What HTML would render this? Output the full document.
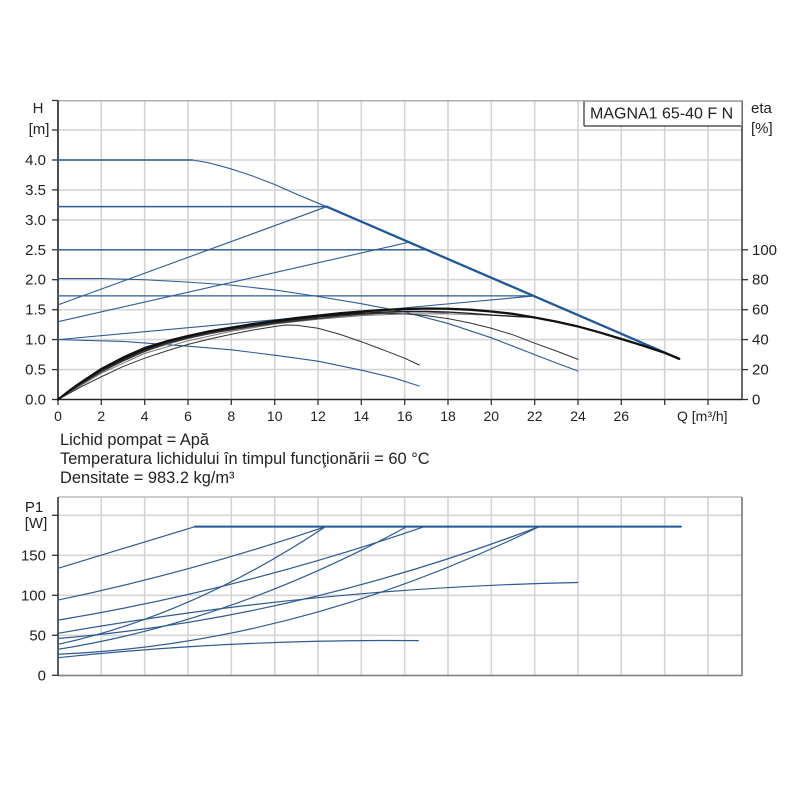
<!DOCTYPE html>
<html><head><meta charset="utf-8"><style>
html,body{margin:0;padding:0;background:#fff;}
svg{display:block;}
text{font-family:"Liberation Sans",Arial,sans-serif;fill:#222;}
.nb{vector-effect:non-scaling-stroke;fill:none;stroke-linejoin:round;stroke-linecap:round;}
</style></head><body>
<svg width="800" height="800" viewBox="0 0 800 800" xmlns="http://www.w3.org/2000/svg">
<rect width="800" height="800" fill="#fff"/>

<!-- ===== TOP CHART ===== -->
<g stroke="#d4d4d4" stroke-width="1.6">
  <line x1="101.3" y1="100.5" x2="101.3" y2="399.5"/>
  <line x1="144.7" y1="100.5" x2="144.7" y2="399.5"/>
  <line x1="188" y1="100.5" x2="188" y2="399.5"/>
  <line x1="231.3" y1="100.5" x2="231.3" y2="399.5"/>
  <line x1="274.7" y1="100.5" x2="274.7" y2="399.5"/>
  <line x1="318" y1="100.5" x2="318" y2="399.5"/>
  <line x1="361.3" y1="100.5" x2="361.3" y2="399.5"/>
  <line x1="404.7" y1="100.5" x2="404.7" y2="399.5"/>
  <line x1="448" y1="100.5" x2="448" y2="399.5"/>
  <line x1="491.3" y1="100.5" x2="491.3" y2="399.5"/>
  <line x1="534.7" y1="100.5" x2="534.7" y2="399.5"/>
  <line x1="578" y1="100.5" x2="578" y2="399.5"/>
  <line x1="621.3" y1="100.5" x2="621.3" y2="399.5"/>
  <line x1="664.7" y1="100.5" x2="664.7" y2="399.5"/>
  <line x1="708" y1="100.5" x2="708" y2="399.5"/>
  <line x1="58" y1="369.6" x2="742" y2="369.6"/>
  <line x1="58" y1="339.6" x2="742" y2="339.6"/>
  <line x1="58" y1="309.7" x2="742" y2="309.7"/>
  <line x1="58" y1="279.7" x2="742" y2="279.7"/>
  <line x1="58" y1="249.8" x2="742" y2="249.8"/>
  <line x1="58" y1="219.9" x2="742" y2="219.9"/>
  <line x1="58" y1="189.9" x2="742" y2="189.9"/>
  <line x1="58" y1="160" x2="742" y2="160"/>
  <line x1="58" y1="130" x2="742" y2="130"/>
</g>
<line x1="58" y1="100.8" x2="742" y2="100.8" stroke="#aaa" stroke-width="1.4"/>
<line x1="742" y1="100.5" x2="742" y2="400" stroke="#444" stroke-width="1.6"/>
<line x1="58" y1="100.5" x2="58" y2="400" stroke="#222" stroke-width="1.6"/>
<line x1="57" y1="399.5" x2="742" y2="399.5" stroke="#222" stroke-width="1.6"/>
<g stroke="#333" stroke-width="1.3">
  <line x1="52" y1="399.5" x2="58" y2="399.5"/><line x1="52" y1="369.6" x2="58" y2="369.6"/>
  <line x1="52" y1="339.6" x2="58" y2="339.6"/><line x1="52" y1="309.7" x2="58" y2="309.7"/>
  <line x1="52" y1="279.7" x2="58" y2="279.7"/><line x1="52" y1="249.8" x2="58" y2="249.8"/>
  <line x1="52" y1="219.9" x2="58" y2="219.9"/><line x1="52" y1="189.9" x2="58" y2="189.9"/>
  <line x1="52" y1="160" x2="58" y2="160"/><line x1="52" y1="130" x2="58" y2="130"/>
  <line x1="52" y1="100.5" x2="58" y2="100.5"/>
  <line x1="742" y1="399.5" x2="748" y2="399.5"/><line x1="742" y1="369.6" x2="748" y2="369.6"/>
  <line x1="742" y1="339.6" x2="748" y2="339.6"/><line x1="742" y1="309.7" x2="748" y2="309.7"/>
  <line x1="742" y1="279.7" x2="748" y2="279.7"/><line x1="742" y1="249.8" x2="748" y2="249.8"/>
  <line x1="58" y1="399.5" x2="58" y2="405"/><line x1="101.3" y1="399.5" x2="101.3" y2="405"/>
  <line x1="144.7" y1="399.5" x2="144.7" y2="405"/><line x1="188" y1="399.5" x2="188" y2="405"/>
  <line x1="231.3" y1="399.5" x2="231.3" y2="405"/><line x1="274.7" y1="399.5" x2="274.7" y2="405"/>
  <line x1="318" y1="399.5" x2="318" y2="405"/><line x1="361.3" y1="399.5" x2="361.3" y2="405"/>
  <line x1="404.7" y1="399.5" x2="404.7" y2="405"/><line x1="448" y1="399.5" x2="448" y2="405"/>
  <line x1="491.3" y1="399.5" x2="491.3" y2="405"/><line x1="534.7" y1="399.5" x2="534.7" y2="405"/>
  <line x1="578" y1="399.5" x2="578" y2="405"/><line x1="621.3" y1="399.5" x2="621.3" y2="405"/>
  <line x1="664.7" y1="399.5" x2="664.7" y2="405"/><line x1="708" y1="399.5" x2="708" y2="405"/>
</g>

<g transform="matrix(21.667 0 0 -59.88 58 399.5)">
  <g stroke="#2d5b95" stroke-width="1.1">
    <path class="nb" stroke-width="1.5" d="M0,4 L6.2,4"/>
    <path class="nb" d="M6.2,4 L7,3.95 8,3.85 9,3.73 10,3.59 11,3.43 12.4,3.22"/>
    <path class="nb" stroke-width="1.5" d="M0,3.22 L12.4,3.22"/>
    <path class="nb" stroke-width="1.3" d="M0,2.5 L16.95,2.5"/>
    <path class="nb" stroke-width="1.3" d="M0,1.73 L22,1.73"/>
    <path class="nb" d="M0,1.58 L12.4,3.22"/>
    <path class="nb" d="M0,1.30 L16.2,2.627"/>
    <path class="nb" d="M0,1.0 L22,1.73"/>
    <path class="nb" d="M0,2.02 L2,2.02 4,2.0 6,1.96 8,1.91 10,1.83 12,1.72 14,1.6 16,1.46 18,1.27 20,1.03 22,0.75 23,0.61 24,0.476"/>
    <path class="nb" d="M0,1.0 L3,0.97 6,0.89 8,0.83 10,0.74 12,0.64 14,0.49 15.5,0.36 16.67,0.225"/>
    <path class="nb" stroke="#1f5799" stroke-width="2.3" d="M12.4,3.22 L28.67,0.68"/>
  </g>
  <path class="nb" stroke="#777" stroke-width="1" d="M0,0 L2,0.44 4,0.77 6,0.98 8,1.14 10,1.26 12,1.34 14,1.40 16,1.43 18,1.43 20,1.41 22,1.37"/>
  <path class="nb" stroke="#888" stroke-width="1" d="M0,0 L2,0.47 4,0.81 6,1.02 8,1.17 10,1.28 12,1.37 14,1.43 16,1.46 17,1.46 18,1.44"/>
  <path class="nb" stroke="#333" stroke-width="1" d="M0,0 L1,0.2 2,0.38 3,0.55 4,0.69 5,0.81 6,0.92 7,1.01 8,1.09 9,1.16 10,1.22 10.5,1.245 11,1.24 12,1.19 13,1.09 14,0.965 15,0.83 16,0.69 16.67,0.576"/>
  <path class="nb" stroke="#333" stroke-width="1" d="M0,0 L1,0.24 2,0.46 3,0.64 4,0.80 5,0.93 6,1.02 7,1.10 8,1.16 9,1.22 10,1.27 11,1.31 12,1.35 13,1.39 14,1.42 15,1.44 16,1.43 17,1.40 18,1.35 19,1.28 20,1.19 21,1.08 22,0.94 23,0.81 24,0.67"/>
  <path class="nb" stroke="#222" stroke-width="1.4" d="M0,0 L1,0.26 2,0.49 3,0.67 4,0.83 5,0.95 6,1.04 7,1.12 8,1.18 9,1.24 10,1.29 11,1.34 12,1.38 13,1.41 14,1.44 15,1.46 16,1.47 17,1.47 18,1.46 19,1.44 20,1.41 21,1.39 22,1.37"/>
  <path class="nb" stroke="#111" stroke-width="1.4" d="M0,0 L1,0.265 2,0.50 3,0.685 4,0.845 5,0.96 6,1.05 7,1.13 8,1.19 9,1.25 10,1.30 11,1.35 12,1.39 13,1.425 14,1.455"/>
  <path class="nb" stroke="#333" stroke-width="1.2" d="M0,0 L1,0.25 2,0.475 3,0.655 4,0.815 5,0.94 6,1.03 7,1.11 8,1.17 9,1.23 10,1.28 11,1.325 12,1.365"/>
  <path class="nb" stroke="#111" stroke-width="2.3" d="M0,0 L0.5,0.14 1,0.27 2,0.51 3,0.70 4,0.86 5,0.97 6,1.06 7,1.14 8,1.20 9,1.26 10,1.31 11,1.36 12,1.40 13,1.44 14,1.47 15,1.495 16,1.51 17,1.52 18,1.515 19,1.50 20,1.47 21,1.43 22,1.37 23,1.30 24,1.22 25,1.12 26,1.01 27,0.90 28,0.78 28.67,0.68"/>
</g>

<rect x="584" y="101.5" width="157.5" height="24.5" fill="#fff" stroke="#aaa" stroke-width="1"/>
<line x1="584" y1="101.5" x2="584" y2="126" stroke="#555" stroke-width="1.5"/>
<line x1="584" y1="126" x2="741.5" y2="126" stroke="#555" stroke-width="1.5"/>
<text x="590" y="118.5" font-size="16">MAGNA1 65-40 F N</text>

<text x="38" y="113" font-size="15" text-anchor="middle">H</text>
<text x="39" y="134" font-size="15" text-anchor="middle">[m]</text>
<text x="751" y="113" font-size="15">eta</text>
<text x="751" y="133" font-size="15">[%]</text>

<g font-size="15" text-anchor="end">
  <text x="46" y="404.5">0.0</text>
  <text x="46" y="374.6">0.5</text>
  <text x="46" y="344.6">1.0</text>
  <text x="46" y="314.7">1.5</text>
  <text x="46" y="284.7">2.0</text>
  <text x="46" y="254.8">2.5</text>
  <text x="46" y="224.9">3.0</text>
  <text x="46" y="194.9">3.5</text>
  <text x="46" y="165">4.0</text>
</g>
<g font-size="15">
  <text x="752" y="404.5">0</text>
  <text x="752" y="374.6">20</text>
  <text x="752" y="344.6">40</text>
  <text x="752" y="314.7">60</text>
  <text x="752" y="284.7">80</text>
  <text x="752" y="254.8">100</text>
</g>
<g font-size="14" text-anchor="middle">
  <text x="58" y="421">0</text><text x="101.3" y="421">2</text><text x="144.7" y="421">4</text>
  <text x="188" y="421">6</text><text x="231.3" y="421">8</text><text x="274.7" y="421">10</text>
  <text x="318" y="421">12</text><text x="361.3" y="421">14</text><text x="404.7" y="421">16</text>
  <text x="448" y="421">18</text><text x="491.3" y="421">20</text><text x="534.7" y="421">22</text>
  <text x="578" y="421">24</text><text x="621.3" y="421">26</text>
</g>
<text x="677" y="421" font-size="14">Q [m³/h]</text>

<g font-size="16.4">
  <text x="60" y="445">Lichid pompat = Apă</text>
  <text x="60" y="464">Temperatura lichidului în timpul funcţionării = 60 °C</text>
  <text x="60" y="483">Densitate = 983.2 kg/m³</text>
</g>

<!-- ===== BOTTOM CHART ===== -->
<g stroke="#d4d4d4" stroke-width="1.6">
  <line x1="101.3" y1="497" x2="101.3" y2="675.3"/>
  <line x1="144.7" y1="497" x2="144.7" y2="675.3"/>
  <line x1="188" y1="497" x2="188" y2="675.3"/>
  <line x1="231.3" y1="497" x2="231.3" y2="675.3"/>
  <line x1="274.7" y1="497" x2="274.7" y2="675.3"/>
  <line x1="318" y1="497" x2="318" y2="675.3"/>
  <line x1="361.3" y1="497" x2="361.3" y2="675.3"/>
  <line x1="404.7" y1="497" x2="404.7" y2="675.3"/>
  <line x1="448" y1="497" x2="448" y2="675.3"/>
  <line x1="491.3" y1="497" x2="491.3" y2="675.3"/>
  <line x1="534.7" y1="497" x2="534.7" y2="675.3"/>
  <line x1="578" y1="497" x2="578" y2="675.3"/>
  <line x1="621.3" y1="497" x2="621.3" y2="675.3"/>
  <line x1="664.7" y1="497" x2="664.7" y2="675.3"/>
  <line x1="708" y1="497" x2="708" y2="675.3"/>
  <line x1="58" y1="635.3" x2="742" y2="635.3"/>
  <line x1="58" y1="595.3" x2="742" y2="595.3"/>
  <line x1="58" y1="555.3" x2="742" y2="555.3"/>
  <line x1="58" y1="515.3" x2="742" y2="515.3"/>
</g>
<line x1="58" y1="497" x2="742" y2="497" stroke="#bbb" stroke-width="1.4"/>
<line x1="742" y1="497" x2="742" y2="676" stroke="#888" stroke-width="1.8"/>
<line x1="58" y1="675.5" x2="742" y2="675.5" stroke="#888" stroke-width="1.8"/>
<line x1="58" y1="497" x2="58" y2="676" stroke="#333" stroke-width="1.6"/>
<g stroke="#333" stroke-width="1.3">
  <line x1="52" y1="675.3" x2="58" y2="675.3"/><line x1="52" y1="635.3" x2="58" y2="635.3"/>
  <line x1="52" y1="595.3" x2="58" y2="595.3"/><line x1="52" y1="555.3" x2="58" y2="555.3"/>
  <line x1="52" y1="515.3" x2="58" y2="515.3"/>
</g>
<text x="34" y="512" font-size="15" text-anchor="middle">P1</text>
<text x="36" y="528" font-size="15" text-anchor="middle">[W]</text>
<g font-size="15" text-anchor="end">
  <text x="46" y="680.3">0</text>
  <text x="46" y="640.3">50</text>
  <text x="46" y="600.3">100</text>
  <text x="46" y="560.3">150</text>
</g>

<g transform="matrix(21.667 0 0 -0.8 58 675.3)" stroke="#2f5a90">
  <path class="nb" stroke-width="1.2" d="M0,133.7 L6.32,185.8"/>
  <path class="nb" stroke="#1f5799" stroke-width="2" d="M6.32,185.8 L28.75,185.8"/>
  <path class="nb" stroke-width="1.2" d="M0,94 Q6.175,129.07 12.35,185.8"/>
  <path class="nb" stroke-width="1.2" d="M0,69 Q8.45,106.75 16.9,185.8"/>
  <path class="nb" stroke-width="1.2" d="M0,46 Q11.1,71.2 22.2,185.8"/>
  <path class="nb" stroke-width="1.2" d="M0,38.7 Q6.175,74.7 12.35,185.8"/>
  <path class="nb" stroke-width="1.2" d="M0,32.5 Q8.05,67.2 16.1,185.8"/>
  <path class="nb" stroke-width="1.2" d="M0,26.3 Q11.1,38.95 22.2,185.8"/>
  <path class="nb" stroke-width="1.2" d="M0,52.5 Q12,109.7 24,116"/>
  <path class="nb" stroke-width="1.2" d="M0,22 Q8.315,45.57 16.63,43.3"/>
</g>
</svg>
</body></html>
